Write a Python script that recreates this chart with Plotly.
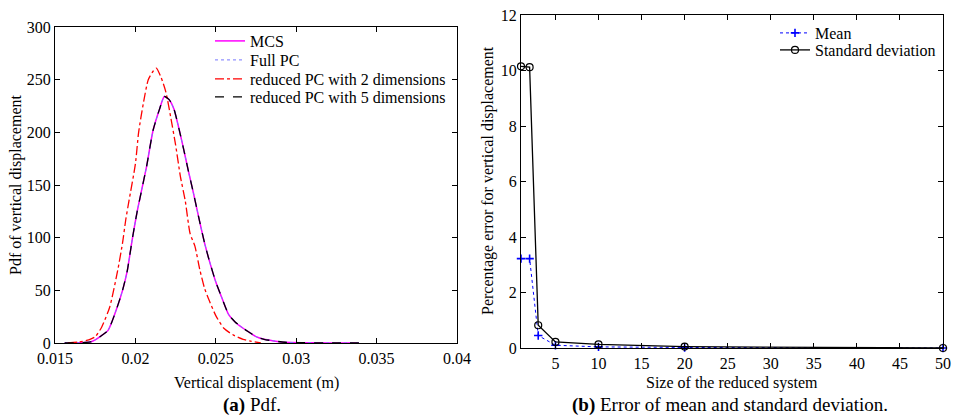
import plotly.graph_objects as go

W, H = 955, 417

# ---------------- Left panel data (pdf) ----------------
x_mcs = [0.0156, 0.0165, 0.0172, 0.0175, 0.0178, 0.0183, 0.0188, 0.0192, 0.0195, 0.0198,
         0.0201, 0.0204, 0.0207, 0.0211, 0.0215, 0.0218, 0.0221, 0.0224, 0.0227, 0.0230,
         0.0233, 0.0236, 0.0238, 0.0240, 0.0243, 0.0246, 0.0250, 0.0254, 0.0258, 0.0262,
         0.0267, 0.0271, 0.0275, 0.0280, 0.0286, 0.0293, 0.0305, 0.0320, 0.0339]
pdf_mcs = [0, 0.3, 1, 3, 6, 12, 31, 50, 69, 98,
           124, 146, 168, 202, 222, 234, 231, 222, 204, 184,
           163, 143, 129, 115, 95, 78, 58, 42, 27, 20,
           14, 10, 6, 3.5, 2, 0.7, 0.3, 0.1, 0]

x_fullpc = list(x_mcs)
pdf_fullpc = [0, 0.3, 1, 3, 6, 12, 31, 50, 69, 98,
              124, 146, 168, 202, 222, 234, 231, 222, 204, 184,
              163, 143, 129, 115, 95, 78, 58, 42, 27, 20,
              14, 10, 6, 3.5, 2, 0.7, 0.3, 0.1, 0]

x_red2 = [0.0158, 0.0165, 0.0171, 0.0175, 0.0179, 0.0184, 0.0189, 0.0192, 0.0194, 0.0196,
          0.0200, 0.0202, 0.0205, 0.0208, 0.0211, 0.0213, 0.0216, 0.0219, 0.0222, 0.0225,
          0.0228, 0.0231, 0.0234, 0.0237, 0.0240, 0.0243, 0.0246, 0.0250, 0.0255, 0.0261,
          0.0267, 0.0271, 0.0278]
pdf_red2 = [0, 1, 3, 6, 15, 34, 69, 95, 117, 135,
            170, 200, 228, 250, 258, 261, 252, 238, 214, 188,
            158, 135, 104, 92, 70, 52, 40, 26, 14, 7.5,
            3.5, 2, 0]

x_red5 = list(x_mcs)
pdf_red5 = [0, 0.3, 1, 3, 6, 12, 31, 50, 69, 98,
            124, 146, 168, 202, 222, 234, 231, 222, 204, 184,
            163, 143, 129, 115, 95, 78, 58, 42, 27, 20,
            14, 10, 6, 3.5, 2, 0.7, 0.3, 0.1, 0]

left_xticks = [0.015, 0.02, 0.025, 0.03, 0.035, 0.04]
left_xticktext = ["0.015", "0.02", "0.025", "0.03", "0.035", "0.04"]
left_yticks = [0, 50, 100, 150, 200, 250, 300]

# ---------------- Right panel data (errors) ----------------
size_sys = [1, 2, 3, 5, 10, 20, 50]
err_mean = [3.22, 3.22, 0.45, 0.10, 0.04, 0.02, 0.0]
err_std = [10.15, 10.12, 0.82, 0.22, 0.13, 0.05, 0.0]

right_xticks = [5, 10, 15, 20, 25, 30, 35, 40, 45, 50]
right_yticks = [0, 2, 4, 6, 8, 10, 12]

FONT = "Liberation Serif"
FS = 16

fig = go.Figure()

spl = dict(shape="spline", smoothing=0.6)
fig.add_trace(go.Scatter(x=x_mcs, y=pdf_mcs, mode="lines", name="MCS",
                         line=dict(color="#FF00FF", width=1.5, **spl),
                         xaxis="x", yaxis="y", legend="legend"))
fig.add_trace(go.Scatter(x=x_fullpc, y=pdf_fullpc, mode="lines", name="Full PC",
                         line=dict(color="#7777FF", width=1, dash="dot", **spl),
                         xaxis="x", yaxis="y", legend="legend2"))
fig.add_trace(go.Scatter(x=x_red2, y=pdf_red2, mode="lines", name="reduced PC with 2 dimensions",
                         line=dict(color="#FF0000", width=1.3, dash="dashdot", **spl),
                         xaxis="x", yaxis="y", legend="legend3"))
fig.add_trace(go.Scatter(x=x_red5, y=pdf_red5, mode="lines", name="reduced PC with 5 dimensions",
                         line=dict(color="#000000", width=1.3, dash="dash", **spl),
                         xaxis="x", yaxis="y", legend="legend4"))

fig.add_trace(go.Scatter(x=size_sys, y=err_mean, mode="lines+markers", name="Mean",
                         line=dict(color="#0000FF", width=1, dash="dot"),
                         marker=dict(symbol="cross-thin", size=6, color="#0000FF",
                                     line=dict(color="#0000FF", width=1.6)),
                         xaxis="x2", yaxis="y2", legend="legend5", cliponaxis=False))
fig.add_trace(go.Scatter(x=size_sys, y=err_std, mode="lines+markers", name="Standard deviation",
                         line=dict(color="#000000", width=1.3),
                         marker=dict(symbol="circle-open", size=7, color="#000000",
                                     line=dict(color="#000000", width=1.2)),
                         xaxis="x2", yaxis="y2", legend="legend6", cliponaxis=False))

def px_x(p):
    return p / W

def px_y(p):
    return 1 - p / H

axis_common = dict(showline=True, linecolor="black", linewidth=1, mirror="ticks",
                   ticks="inside", ticklen=5, tickcolor="black", tickwidth=1,
                   showgrid=False, zeroline=False, automargin=False,
                   tickfont=dict(family=FONT, size=FS, color="black"))

def leg(xp, yp):
    return dict(x=px_x(xp), y=px_y(yp), xanchor="left", yanchor="middle",
                bgcolor="rgba(0,0,0,0)", borderwidth=0,
                font=dict(family=FONT, size=FS, color="black"))

fig.update_layout(
    width=W, height=H, template="none",
    margin=dict(l=0, r=0, t=0, b=0),
    paper_bgcolor="white", plot_bgcolor="white",
    font=dict(family=FONT, size=FS, color="black"),
    xaxis=dict(domain=[px_x(55), px_x(457)], range=[0.015, 0.04], anchor="y",
               tickvals=left_xticks, ticktext=left_xticktext, ticklabelstandoff=1, **axis_common),
    yaxis=dict(domain=[px_y(343), px_y(27)], range=[0, 300], anchor="x",
               tickvals=left_yticks, **axis_common),
    xaxis2=dict(domain=[px_x(521), px_x(943)], range=[1, 50], anchor="y2",
                tickvals=right_xticks, ticklabelstandoff=1, **axis_common),
    yaxis2=dict(domain=[px_y(348), px_y(15)], range=[0, 12], anchor="x2",
                tickvals=right_yticks, **axis_common),
    legend=leg(210, 41),
    legend2=leg(210, 60),
    legend3=leg(210, 79),
    legend4=leg(210, 97),
    legend5=leg(775, 33),
    legend6=leg(775, 50),
    showlegend=True,
)

def txt(t, xp, yp, size=FS, angle=0):
    return dict(text=t, x=px_x(xp), y=px_y(yp), xref="paper", yref="paper",
                xanchor="center", yanchor="middle", showarrow=False, textangle=angle,
                font=dict(family=FONT, size=size, color="black"))

ann = [
    txt("Vertical displacement (m)", 256, 383),
    txt("Pdf of vertical displacement", 16, 185, angle=-90),
    txt("Size of the reduced system", 732, 383),
    txt("Percentage error for vertical displacement", 488, 181, angle=-90),
    txt("<b>(a)</b> Pdf.", 252, 405, size=19),
    txt("<b>(b)</b> Error of mean and standard deviation.", 730, 405, size=19),
]
fig.update_layout(annotations=ann)

fig.write_html("out.html")
